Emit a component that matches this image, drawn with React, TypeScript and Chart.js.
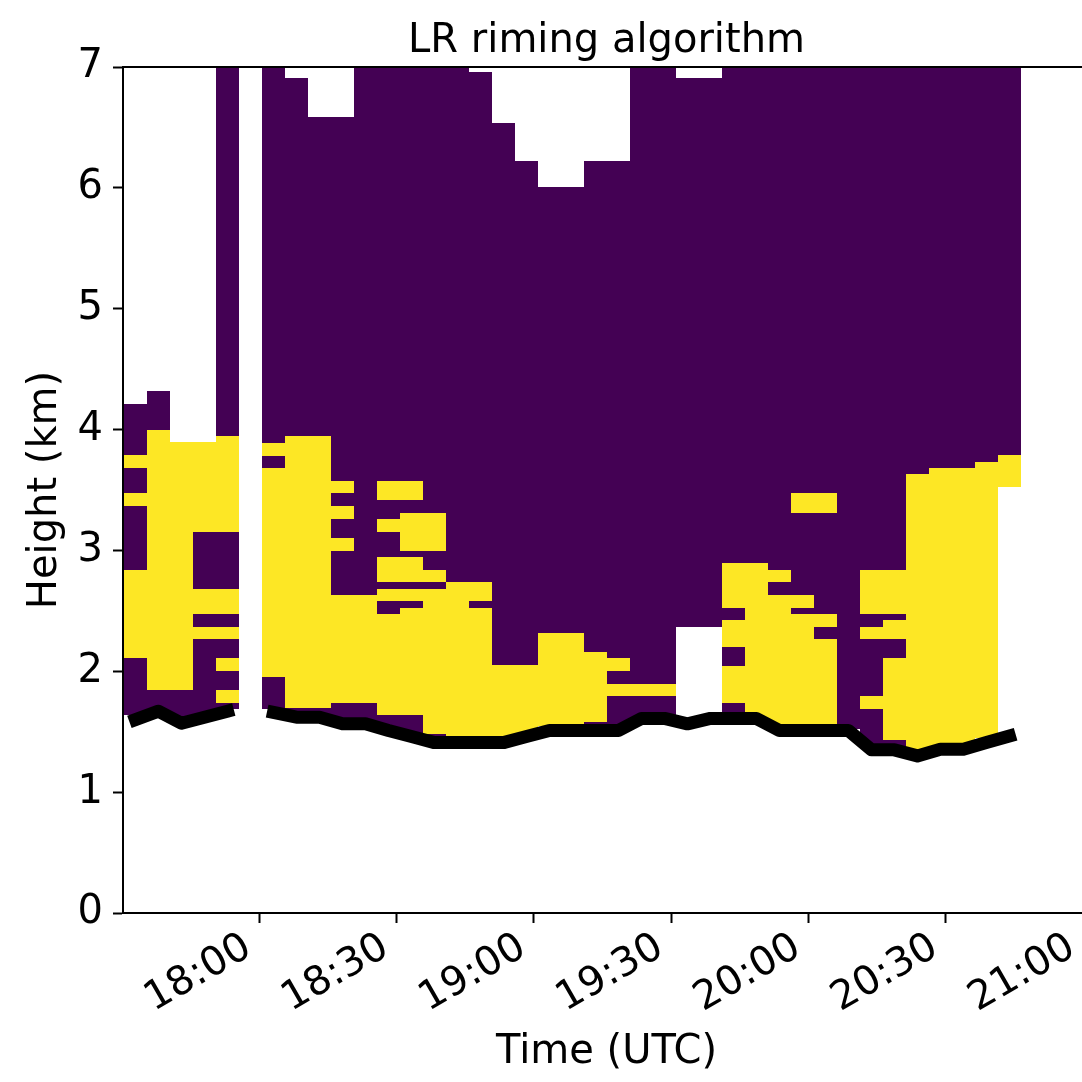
import { useEffect, useRef } from 'react';
import { Chart, registerables } from 'chart.js';

Chart.register(...registerables);

const FONT = 'DejaVu Sans';
const FONT_SIZE = 40;
const TITLE = 'LR riming algorithm';

// Time axis is expressed in minutes after 17:30 UTC
const baseMinutes = 17 * 60 + 30;
const xMin = 0.2;
const xMax = 211.5;
const timeTicks = [30, 60, 90, 120, 150, 180, 210];
const heightTicks = [0, 1, 2, 3, 4, 5, 6, 7];

// Profile columns: left edge of the first one and spacing (minutes)
const colStart = 0.42;
const colStep = 5.025;

// Each profile, bottom to top: edge (km), class, edge, class, ..., top edge.
// 'N' = no riming, 'R' = riming; outside the listed edges there is no retrieval.
const rimingProfiles: (number | string)[][] = [
  [1.64, 'N', 2.11, 'R', 2.84, 'N', 3.37, 'R', 3.475, 'N', 3.68, 'R', 3.79, 'N', 4.21],
  [1.64, 'N', 1.845, 'R', 3.996, 'N', 4.32],
  [1.62, 'N', 1.845, 'R', 3.9],
  [1.64, 'N', 2.267, 'R', 2.366, 'N', 2.474, 'R', 2.681, 'N', 3.152, 'R', 3.9],
  [1.69, 'N', 1.74, 'R', 1.845, 'N', 2.002, 'R', 2.11, 'N', 2.267, 'R', 2.366, 'N', 2.474, 'R', 2.681, 'N', 3.152, 'R', 3.947, 'N', 7],
  [],
  [1.69, 'N', 1.955, 'R', 3.682, 'N', 3.779, 'R', 3.887, 'N', 7],
  [1.64, 'N', 1.693, 'R', 3.947, 'N', 6.91],
  [1.6, 'N', 1.693, 'R', 3.947, 'N', 6.586],
  [1.6, 'N', 1.74, 'R', 2.631, 'N', 2.995, 'R', 3.103, 'N', 3.26, 'R', 3.368, 'N', 3.475, 'R', 3.574, 'N', 6.586],
  [1.58, 'N', 1.74, 'R', 2.631, 'N', 7],
  [1.52, 'N', 1.638, 'R', 2.474, 'N', 2.582, 'R', 2.681, 'N', 2.739, 'R', 2.946, 'N', 3.152, 'R', 3.26, 'N', 3.417, 'R', 3.574, 'N', 7],
  [1.49, 'N', 1.638, 'R', 2.524, 'N', 2.582, 'R', 2.681, 'N', 2.739, 'R', 2.946, 'N', 2.995, 'R', 3.307, 'N', 3.417, 'R', 3.574, 'N', 7],
  [1.45, 'N', 1.48, 'R', 2.681, 'N', 2.739, 'R', 2.842, 'N', 2.995, 'R', 3.307, 'N', 7],
  [1.45, 'R', 2.739, 'N', 7],
  [1.45, 'R', 2.524, 'N', 2.582, 'R', 2.739, 'N', 6.958],
  [1.45, 'R', 2.052, 'N', 6.536],
  [1.47, 'R', 2.052, 'N', 6.222],
  [1.55, 'R', 2.317, 'N', 6.007],
  [1.55, 'R', 2.317, 'N', 6.007],
  [1.55, 'N', 1.583, 'R', 2.16, 'N', 6.222],
  [1.55, 'N', 1.796, 'R', 1.895, 'N', 2.002, 'R', 2.11, 'N', 6.222],
  [1.62, 'N', 1.796, 'R', 1.895, 'N', 7],
  [1.62, 'N', 1.796, 'R', 1.895, 'N', 7],
  [2.366, 'N', 6.909],
  [2.366, 'N', 6.909],
  [1.65, 'N', 1.734, 'R', 2.047, 'N', 2.204, 'R', 2.422, 'N', 2.521, 'R', 2.894, 'N', 7],
  [1.62, 'R', 2.894, 'N', 7],
  [1.55, 'R', 2.631, 'N', 2.739, 'R', 2.838, 'N', 7],
  [1.55, 'R', 2.474, 'N', 2.524, 'R', 2.631, 'N', 3.31, 'R', 3.475, 'N', 7],
  [1.55, 'R', 2.267, 'N', 2.366, 'R', 2.474, 'N', 3.31, 'R', 3.475, 'N', 7],
  [1.52, 'N', 7],
  [1.38, 'N', 1.688, 'R', 1.796, 'N', 2.267, 'R', 2.366, 'N', 2.474, 'R', 2.838, 'N', 7],
  [1.38, 'N', 1.431, 'R', 2.11, 'N', 2.267, 'R', 2.422, 'N', 2.474, 'R', 2.838, 'N', 7],
  [1.36, 'R', 3.632, 'N', 7],
  [1.38, 'R', 3.682, 'N', 7],
  [1.4, 'R', 3.682, 'N', 7],
  [1.45, 'R', 3.731, 'N', 7],
  [3.525, 'R', 3.79, 'N', 7],
];

// Melting-layer height (km) for each profile
const meltingLayer: (number | null)[] = [
  1.6, 1.67, 1.57, 1.62, 1.67, null, 1.66, 1.62, 1.62, 1.565, 1.565, 1.51, 1.46,
  1.41, 1.41, 1.41, 1.41, 1.46, 1.51, 1.51, 1.51, 1.51, 1.61, 1.61, 1.565, 1.61,
  1.61, 1.61, 1.51, 1.51, 1.51, 1.51, 1.35, 1.35, 1.3, 1.355, 1.355, 1.41, 1.465,
];

const classColors: Record<string, string> = { N: '#440154', R: '#fde725' };

const fmtTime = (v: number) => {
  const total = Math.round(baseMinutes + v);
  const h = Math.floor(total / 60);
  const m = total % 60;
  return `${h}:${String(m).padStart(2, '0')}`;
};

const rimingCells = {
  id: 'rimingCells',
  beforeDatasetsDraw(chart: any) {
    const { ctx, chartArea, scales } = chart;
    const xs = scales.x;
    const ys = scales.y;
    ctx.save();
    ctx.beginPath();
    ctx.rect(chartArea.left, chartArea.top, chartArea.right - chartArea.left, chartArea.bottom - chartArea.top);
    ctx.clip();
    rimingProfiles.forEach((p, i) => {
      const t0 = colStart + i * colStep;
      const x0 = Math.round(xs.getPixelForValue(t0));
      const x1 = Math.round(xs.getPixelForValue(t0 + colStep));
      for (let k = 1; k < p.length; k += 2) {
        const lo = p[k - 1] as number;
        const hi = p[k + 1] as number;
        const yTop = Math.round(ys.getPixelForValue(hi));
        const yBot = Math.round(ys.getPixelForValue(lo));
        ctx.fillStyle = classColors[p[k] as string];
        ctx.fillRect(x0, yTop, x1 - x0, yBot - yTop);
      }
    });
    ctx.restore();
  },
};

// Top spine and the axes title, centred over the plot area
const frameAndTitle = {
  id: 'frameAndTitle',
  afterDraw(chart: any) {
    const { ctx, chartArea } = chart;
    ctx.save();
    ctx.strokeStyle = '#000';
    ctx.lineWidth = 2;
    ctx.beginPath();
    ctx.moveTo(chartArea.left - 1, chartArea.top);
    ctx.lineTo(chartArea.right + 1, chartArea.top);
    ctx.stroke();
    ctx.fillStyle = '#000';
    ctx.font = `${FONT_SIZE}px "${FONT}"`;
    ctx.textAlign = 'center';
    ctx.textBaseline = 'alphabetic';
    ctx.fillText(TITLE, (chartArea.left + chartArea.right) / 2, chartArea.top - 15.3);
    ctx.restore();
  },
};

export default function App() {
  const canvasRef = useRef<HTMLCanvasElement | null>(null);

  useEffect(() => {
    const canvas = canvasRef.current;
    if (!canvas) return;
    const font = { family: FONT, size: FONT_SIZE, weight: 'normal' as const, lineHeight: 1.2 };
    const chart = new Chart(canvas, {
      type: 'line',
      data: {
        datasets: [
          {
            data: meltingLayer.map((h, i) => ({ x: colStart + (i + 0.5) * colStep, y: h as any })),
            borderColor: '#000',
            borderWidth: 13,
            borderCapStyle: 'square',
            borderJoinStyle: 'round',
            pointRadius: 0,
            tension: 0,
            spanGaps: false,
          },
        ],
      },
      options: {
        animation: false,
        responsive: false,
        events: [],
        layout: { padding: { top: 67, left: 0, right: 0, bottom: 0 } },
        plugins: {
          legend: { display: false },
          tooltip: { enabled: false },
          title: { display: false },
        },
        scales: {
          x: {
            type: 'linear',
            min: xMin,
            max: xMax,
            afterBuildTicks: (s: any) => {
              s.ticks = timeTicks.map((v) => ({ value: v }));
            },
            afterFit: (s: any) => {
              s.height = 169;
              s.paddingLeft = 0;
              s.paddingRight = 0;
            },
            ticks: {
              autoSkip: false,
              maxRotation: 30,
              minRotation: 30,
              padding: 1,
              labelOffset: -11,
              color: '#000',
              font,
              callback: (v: any) => fmtTime(Number(v)),
            },
            grid: {
              drawOnChartArea: false,
              drawTicks: true,
              tickLength: 10,
              tickWidth: 2,
              tickColor: '#000',
            },
            border: { display: true, color: '#000', width: 2 },
            title: {
              display: true,
              text: 'Time (UTC)',
              color: '#000',
              font,
              padding: { top: 0, bottom: 5 },
            },
          },
          y: {
            type: 'linear',
            min: 0,
            max: 7,
            afterBuildTicks: (s: any) => {
              s.ticks = heightTicks.map((v) => ({ value: v }));
            },
            afterFit: (s: any) => {
              s.width = 123;
              s.paddingTop = 0;
              s.paddingBottom = 0;
            },
            ticks: {
              padding: 10,
              color: '#000',
              font,
              callback: (v: any) => String(v),
            },
            grid: {
              drawOnChartArea: false,
              drawTicks: true,
              tickLength: 10,
              tickWidth: 2,
              tickColor: '#000',
            },
            border: { display: true, color: '#000', width: 2 },
            title: {
              display: true,
              text: 'Height (km)',
              color: '#000',
              font,
              padding: { top: 22, bottom: 0 },
            },
          },
        },
      },
      plugins: [rimingCells, frameAndTitle],
    });
    return () => chart.destroy();
  }, []);

  return (
    <div style={{ position: 'fixed', left: 0, top: 0, width: 1082, height: 1082, overflow: 'hidden', background: '#fff' }}>
      <canvas ref={canvasRef} width={1090} height={1082} style={{ width: 1090, height: 1082, display: 'block' }} />
    </div>
  );
}
